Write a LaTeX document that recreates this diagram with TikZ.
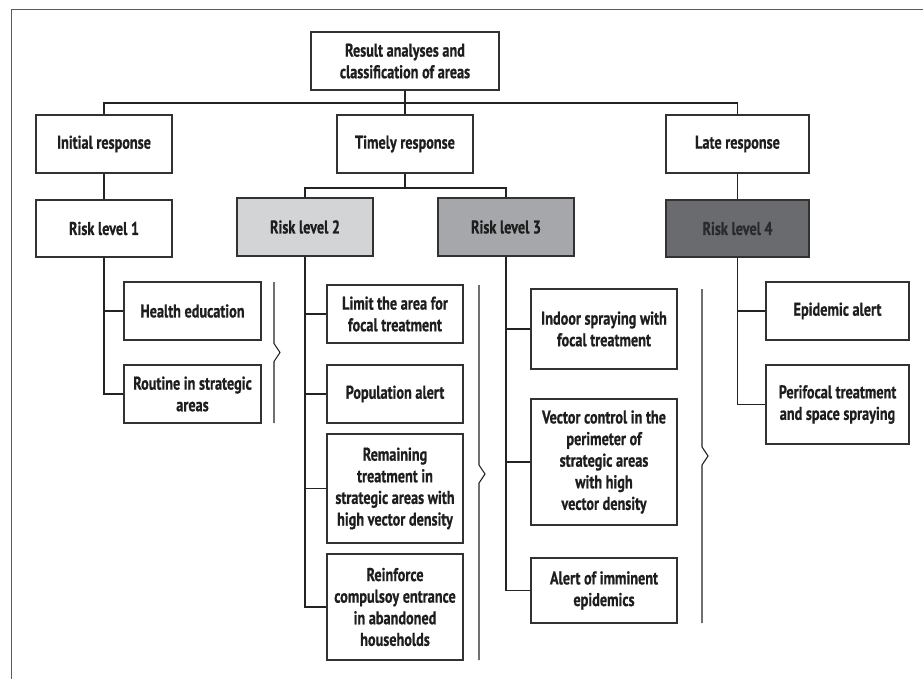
\documentclass[tikz,border=0pt]{standalone}
\usepackage{fontspec}
\setmainfont{PT Sans}[FakeStretch=0.77,BoldFeatures={FakeBold=0.6}]
\definecolor{lineC}{RGB}{35,35,35}
\definecolor{boxC}{RGB}{50,50,50}
\definecolor{frameC}{RGB}{90,90,90}
\definecolor{fillA}{RGB}{211,212,214}
\definecolor{fillB}{RGB}{166,167,171}
\definecolor{fillC}{RGB}{106,107,111}
\definecolor{txtC}{RGB}{30,30,30}
\definecolor{txtD}{RGB}{42,42,45}
\begin{document}
\begin{tikzpicture}[x=1pt,y=-1pt,
  bx/.style={draw=boxC,line width=1.1pt,fill=white,align=center,inner sep=0pt,
    font=\fontsize{18.5}{21.6}\selectfont\bfseries,text=txtC},
  conn/.style={draw=lineC,line width=1.1pt},
  brk/.style={draw=lineC,line width=1.1pt}]
\useasboundingbox (0,0) rectangle (923,679);
\draw[frameC,line width=1.6pt] (11.5,679) -- (11.5,9.5) -- (923,9.5);
% top level
\node[bx,minimum width=188pt,minimum height=58pt] (top) at (405,61) {Result analyses and\\classification of areas};
\node[bx,minimum width=136pt,minimum height=58pt] (init) at (104,144) {Initial response};
\node[bx,minimum width=136pt,minimum height=58pt] (timely) at (405,144) {Timely response};
\node[bx,minimum width=143pt,minimum height=58pt] (late) at (737.5,144) {Late response};
% risk levels
\node[bx,minimum width=136pt,minimum height=57pt] (r1) at (104,228.5) {Risk level 1};
\node[bx,minimum width=136pt,minimum height=58pt,fill=fillA] (r2) at (305,227) {Risk level 2};
\node[bx,minimum width=136pt,minimum height=58pt,fill=fillB] (r3) at (506,227) {Risk level 3};
\node[bx,minimum width=143pt,minimum height=57pt,fill=fillC,text=txtD] (r4) at (737.5,228.5) {Risk level 4};
% risk 1 actions
\node[bx,minimum width=137pt,minimum height=58pt] (he) at (192.5,311) {Health education};
\node[bx,minimum width=137pt,minimum height=58pt] (ro) at (192.5,394) {Routine in strategic\\areas};
% risk 2 actions
\node[bx,minimum width=136pt,minimum height=58pt] (li) at (395,314) {Limit the area for\\focal treatment};
\node[bx,minimum width=136pt,minimum height=58pt] (po) at (395,394) {Population alert};
\node[bx,minimum width=136pt,minimum height=109pt] (rem) at (395,488.5) {Remaining\\treatment in\\strategic areas with\\high vector density};
\node[bx,minimum width=136pt,minimum height=106pt] (rei) at (395,607) {Reinforce\\compulsoy entrance\\in abandoned\\households};
% risk 3 actions
\node[bx,minimum width=146pt,minimum height=80pt] (ind) at (604,329) {Indoor spraying with\\focal treatment};
\node[bx,minimum width=146pt,minimum height=126pt] (vec) at (604,462) {Vector control in the\\perimeter of\\strategic areas\\with high\\vector density};
\node[bx,minimum width=146pt,minimum height=65pt] (ale) at (604,590.5) {Alert of imminent\\epidemics};
% risk 4 actions
\node[bx,minimum width=143pt,minimum height=58pt] (epi) at (837.5,311) {Epidemic alert};
\node[bx,minimum width=143pt,minimum height=79pt] (per) at (837.5,404.5) {Perifocal treatment\\and space spraying};
% buses
\coordinate (bus) at (0,103);
\coordinate (sbus) at (0,188);
\draw[conn] (top.south) -- (timely.north);
\draw[conn] (init.north) -- (init.north |- bus) -- (late.north |- bus) -- (late.north);
\draw[conn] (timely.south) -- (timely.south |- sbus);
\draw[conn] (r2.north) -- (r2.north |- sbus) -- (r3.north |- sbus) -- (r3.north);
\draw[conn] (init.south) -- (r1.north);
\draw[conn] (late.south) -- (r4.north);
% risk 1 tree
\draw[conn] (r1.south) |- (ro.west);
\draw[conn] (r1.south |- he.west) -- (he.west);
% risk 2 tree
\draw[conn] (r2.south) |- (rei.west);
\draw[conn] (r2.south |- li.west) -- (li.west);
\draw[conn] (r2.south |- po.west) -- (po.west);
\draw[conn] (r2.south |- rem.west) -- (rem.west);
% risk 3 tree
\draw[conn] (r3.south) |- (ale.west);
\draw[conn] (r3.south |- ind.west) -- (ind.west);
\draw[conn] (r3.south |- vec.west) -- (vec.west);
% risk 4 tree
\draw[conn] (r4.south) |- (per.west);
\draw[conn] (r4.south |- epi.west) -- (epi.west);
% brackets
\coordinate (b1t) at (274,282); \coordinate (b1b) at (274,423);
\draw[brk] (b1t) -- (274,343.5) -- (280,352.5) -- (274,361.5) -- (b1b);
\coordinate (b2t) at (479,285); \coordinate (b2b) at (479,660);
\draw[brk] (b2t) -- (479,465) -- (485,474) -- (479,483) -- (b2b);
\coordinate (b3t) at (702,289); \coordinate (b3b) at (702,623);
\draw[brk] (b3t) -- (702,447) -- (708,456) -- (702,465) -- (b3b);
\end{tikzpicture}
\end{document}
